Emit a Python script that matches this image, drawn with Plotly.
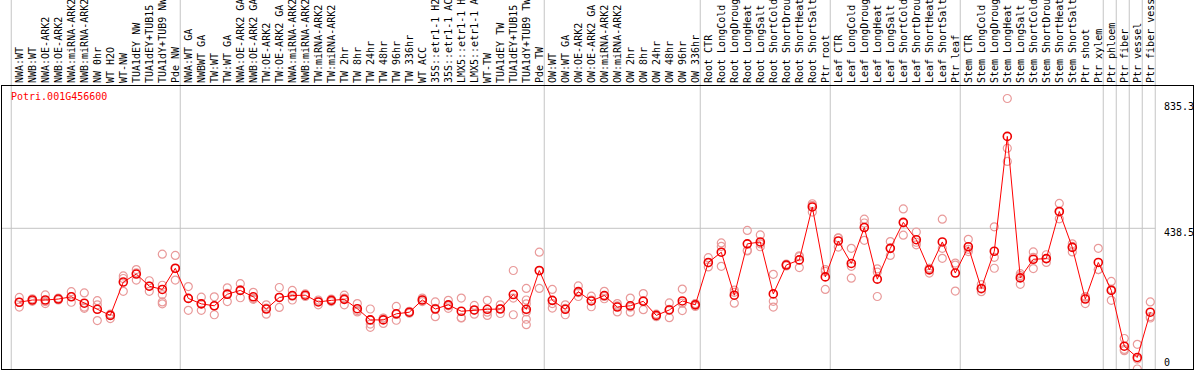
import plotly.graph_objects as go

categories = [
    "NWA:WT", "NWB:WT", "NWA:OE-ARK2", "NWB:OE-ARK2", "NWA:miRNA-ARK2", "NWB:miRNA-ARK2",
    "NW 0hr", "WT H2O", "WT-NW", "TUA1dEY NW", "TUA1dEY+TUB15 NW", "TUA1dY+TUB9 NW", "Pde NW",
    "NWA:WT GA", "NWBWT GA", "TW:WT", "TW:WT GA", "NWA:OE-ARK2 GA", "NWB:OE-ARK2 GA",
    "TW:OE-ARK2", "TW:OE-ARK2 GA", "NWA:miRNA-ARK2 GA", "NWB:miRNA-ARK2 GA", "TW:miRNA-ARK2",
    "TW:miRNA-ARK2 GA", "TW 2hr", "TW 8hr", "TW 24hr", "TW 48hr", "TW 96hr", "TW 336hr",
    "WT ACC", "35S::etr1-1 H2O", "35S::etr1-1 ACC", "LMX5::etr1-1 H2O", "LMX5::etr1-1 ACC",
    "WT-TW", "TUA1dEY TW", "TUA1dEY+TUB15 TW", "TUA1dY+TUB9 TW", "Pde TW",
    "OW:WT", "OW:WT GA", "OW:OE-ARK2", "OW:OE-ARK2 GA", "OW:miRNA-ARK2", "OW:miRNA-ARK2 GA",
    "OW 2hr", "OW 8hr", "OW 24hr", "OW 48hr", "OW 96hr", "OW 336hr",
    "Root CTR", "Root LongCold", "Root LongDrought", "Root LongHeat", "Root LongSalt",
    "Root ShortCold", "Root ShortDrought", "Root ShortHeat", "Root ShortSalt", "Ptr root",
    "Leaf CTR", "Leaf LongCold", "Leaf LongDrought", "Leaf LongHeat", "Leaf LongSalt",
    "Leaf ShortCold", "Leaf ShortDrought", "Leaf ShortHeat", "Leaf ShortSalt", "Ptr leaf",
    "Stem CTR", "Stem LongCold", "Stem LongDrought", "Stem LongHeat", "Stem LongSalt",
    "Stem ShortCold", "Stem ShortDrought", "Stem ShortHeat", "Stem ShortSalt", "Ptr shoot",
    "Ptr xylem", "Ptr phloem", "Ptr fiber", "Ptr vessel", "Ptr fiber vessel",
]

means = [
    208, 215, 215, 218, 225, 205, 186, 167, 271, 296, 258, 248, 314,
    220, 203, 197, 233, 245, 225, 187, 223, 229, 230, 209, 214, 217, 188, 153, 153, 172, 177,
    215, 187, 200, 180, 184, 186, 187, 232, 186, 307,
    214, 186, 241, 212, 229, 193, 197, 211, 167, 184, 212, 200,
    332, 364, 230, 390, 396, 234, 324, 340, 505, 287,
    399, 329, 441, 280, 376, 457, 403, 309, 396, 299,
    381, 251, 367, 725, 284, 342, 344, 491, 379, 218,
    332, 245, 71, 36, 177,
]

replicates = [
    [223, 208, 193], [219, 215, 211], [231, 210, 204], [221, 218, 215], [241, 226, 208],
    [237, 189, 193], [213, 200, 151], [171, 167, 157], [290, 282, 242], [310, 300, 277],
    [275, 258, 242], [358, 261, 232, 209, 203], [354, 313, 277],
    [257, 220, 183], [224, 203, 183], [225, 197, 169], [253, 236, 210], [266, 247, 222],
    [239, 220, 217], [200, 190, 171], [254, 223, 192], [245, 227, 215], [234, 230, 226],
    [215, 212, 200], [218, 214, 210], [230, 221, 200], [204, 182, 178], [187, 153, 140, 130],
    [159, 158, 142], [195, 170, 152], [180, 177, 174],
    [221, 215, 210], [209, 189, 163], [214, 197, 189], [221, 160, 159], [198, 183, 171],
    [214, 177, 167], [200, 188, 173], [307, 221, 169], [251, 215, 203, 178, 155, 138],
    [364, 306, 251],
    [248, 204, 190], [200, 189, 169], [259, 238, 226], [227, 215, 194], [242, 226, 219],
    [204, 197, 178], [221, 193, 177], [235, 213, 185], [171, 167, 163], [206, 186, 160],
    [249, 205, 182], [204, 202, 195],
    [347, 331, 318], [393, 382, 320], [246, 239, 205], [432, 370, 368], [418, 390, 381],
    [295, 211, 193], [327, 324, 321], [350, 353, 316], [515, 510, 489], [304, 310, 248],
    [409, 408, 380], [376, 320, 283], [467, 455, 401], [312, 302, 226], [397, 377, 354],
    [499, 455, 417], [427, 395, 387], [314, 314, 299], [467, 376, 345], [330, 324, 243],
    [404, 373, 366], [263, 249, 241], [443, 348, 314], [843, 688, 647], [297, 291, 264],
    [365, 348, 313], [356, 344, 332], [516, 489, 468], [390, 382, 365], [226, 224, 204],
    [376, 310, 310], [273, 248, 214], [95, 61, 57], [77, 31, 0], [209, 163, 159],
]

group_ends = [-1, 12, 40, 52, 62, 72, 83, 84, 85, 86, 87]
y_tick_labels = ["835.3", "438.5", "0"]
y_tick_vals = [835.3, 438.5, 0]
y_label_shift = [-6, -4, 7]
gene = "Potri.001G456600"

W, H = 1194, 370
L, R, T, B = 2, 1, 86, 1
plot_w = W - L - R
plot_h = H - T - B
first_px, step = 19.3, 13.0
xr0 = (L - first_px) / step
xr1 = (W - R - first_px) / step
ytop = 882.0

def xpaper(pos):
    return (pos - xr0) / (xr1 - xr0)

rx, ry = [], []
for i, reps in enumerate(replicates):
    for v in reps:
        rx.append(i)
        ry.append(v)

fig = go.Figure()
fig.add_trace(go.Scatter(
    x=rx, y=ry, mode="markers",
    marker=dict(symbol="circle-open", size=8, color="#e99a9a", line=dict(width=1.2, color="#e99a9a")),
    showlegend=False, hoverinfo="skip",
))
fig.add_trace(go.Scatter(
    x=list(range(len(categories))), y=means, mode="lines+markers",
    line=dict(color="#ff0000", width=1),
    marker=dict(symbol="circle-open", size=8, color="#ee0000", line=dict(width=1.6, color="#ee0000")),
    showlegend=False,
))

shapes = []
for e in group_ends:
    px = xpaper(e + 0.38)
    shapes.append(dict(type="line", xref="paper", yref="paper", x0=px, x1=px, y0=0,
                       y1=1 + T / plot_h, line=dict(color="#c4c4c4", width=1), layer="below"))
line_end = xpaper(group_ends[-1] + 0.38)
shapes.append(dict(type="line", xref="paper", yref="y", x0=0, x1=line_end, y0=438.5, y1=438.5,
                   line=dict(color="#c4c4c4", width=1), layer="below"))

annotations = [dict(text=gene, xref="paper", yref="paper", x=(9 - L) / plot_w,
                    y=(H - B - 96) / plot_h, xanchor="left", yanchor="middle", showarrow=False,
                    font=dict(family="DejaVu Sans Mono", size=10, color="#ff0000"))]
label_x = (1162 - L) / plot_w
for v, t, s in zip(y_tick_vals, y_tick_labels, y_label_shift):
    annotations.append(dict(text=t, xref="paper", yref="y", x=label_x, y=v,
                            xanchor="left", yanchor="middle", yshift=s, showarrow=False,
                            font=dict(family="DejaVu Sans Mono", size=10, color="#000000")))

fig.update_layout(
    width=W, height=H,
    margin=dict(l=L, r=R, t=T, b=B, pad=0),
    paper_bgcolor="white", plot_bgcolor="white",
    shapes=shapes, annotations=annotations,
    xaxis=dict(range=[xr0, xr1], side="top", tickmode="array",
               tickvals=list(range(len(categories))), ticktext=categories,
               tickangle=-90, ticks="", showgrid=False, zeroline=False,
               showline=True, mirror=True, linecolor="black", linewidth=1,
               tickfont=dict(family="DejaVu Sans Mono", size=10, color="black"),
               automargin=False, fixedrange=True),
    yaxis=dict(range=[0, ytop], showgrid=False, zeroline=False, showticklabels=False,
               ticks="", showline=True, mirror=True, linecolor="black", linewidth=1,
               automargin=False, fixedrange=True),
)

fig.write_html("out.html", config={"displayModeBar": False},
               post_script="document.body.style.margin='0';document.body.style.overflow='hidden';")
